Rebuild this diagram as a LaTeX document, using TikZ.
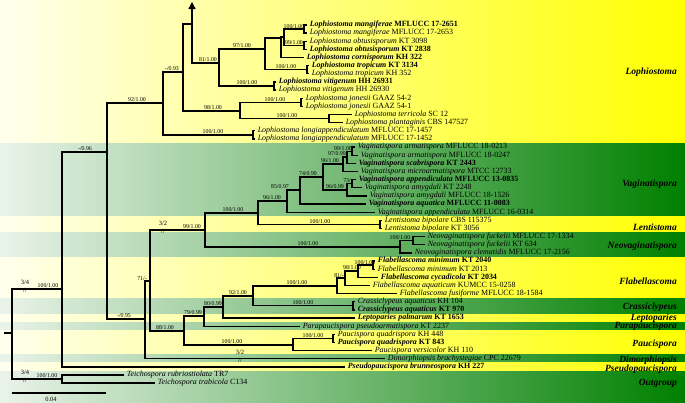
\documentclass[tikz,border=0pt]{standalone}
\usepackage{fontspec}
\setmainfont{Liberation Serif}
\usetikzlibrary{arrows.meta}

\definecolor{bandyellow}{RGB}{255,255,0}
\definecolor{paleyellow}{RGB}{255,255,238}
\definecolor{bandgreen}{RGB}{0,128,0}
\definecolor{palegreen}{RGB}{234,243,234}

\newcommand{\taxon}[2]{\textit{#1} #2}
\newcommand{\btaxon}[2]{\textbf{\textit{#1} #2}}

\begin{document}
\begin{tikzpicture}[
    x=0.03cm, y=-0.03cm,
    br/.style={line width=1.1pt},
    leaf/.style={anchor=west, inner xsep=2.2pt, inner ysep=0pt,
        text height=4.8pt, text depth=1.6pt, font=\fontsize{6.8}{7}\selectfont},
    supp/.style={anchor=south, inner sep=0.6pt, font=\fontsize{5}{5}\selectfont},
    brk/.style={inner sep=0pt, font=\fontsize{5.5}{5.5}\selectfont},
    clade/.style={anchor=east, inner sep=0pt, font=\fontsize{8.1}{9}\selectfont\bfseries\itshape},
    ybar/.style={left color=paleyellow, right color=bandyellow},
    gbar/.style={left color=palegreen, right color=bandgreen}
]
\useasboundingbox (0,0) rectangle (685,403);

% ---------- bands ----------
\shade[ybar] (0,0) rectangle (685,143.5);
\shade[gbar] (0,143.5) rectangle (685,216.5);
\shade[ybar] (0,216.5) rectangle (685,232.5);
\shade[gbar] (0,232.5) rectangle (685,257);
\shade[ybar] (0,257) rectangle (685,298);
\shade[gbar] (0,298) rectangle (685,314.5);
\shade[ybar] (0,314.5) rectangle (685,322.5);
\shade[gbar] (0,322.5) rectangle (685,330);
\shade[ybar] (0,330) rectangle (685,354.5);
\shade[gbar] (0,354.5) rectangle (685,362.5);
\shade[ybar] (0,362.5) rectangle (685,371.5);
\shade[gbar] (0,371.5) rectangle (685,403);

% ---------- clade names ----------
\node[clade] (cLo) at (677,72) {Lophiostoma};
\node[clade] (cVa) at (677,184) {Vaginatispora};
\node[clade] (cLe) at (677,227) {Lentistoma};
\node[clade] (cNe) at (677,246) {Neovaginatispora};
\node[clade] (cFl) at (677,281) {Flabellascoma};
\node[clade] (cCr) at (677,307) {Crassiclypeus};
\node[clade] (cLp) at (677,318) {Leptoparies};
\node[clade] (cPp) at (677,326) {Parapaucispora};
\node[clade] (cPa) at (677,344) {Paucispora};
\node[clade] (cDi) at (677,360) {Dimorphiopsis};
\node[clade] (cPs) at (677,369) {Pseudopaucispora};
\node[clade] (cOu) at (677,383) {Outgroup};

% ---------- taxa ----------
\node[leaf] (t1) at (307,25.0) {\btaxon{Lophiostoma mangiferae}{MFLUCC 17-2651}};
\node[leaf] (t2) at (307,33.1) {\taxon{Lophiostoma mangiferae}{MFLUCC 17-2653}};
\node[leaf] (t3) at (307,41.3) {\taxon{Lophiostoma obtusisporum}{KT 3098}};
\node[leaf] (t4) at (307,49.4) {\btaxon{Lophiostoma obtusisporum}{KT 2838}};
\node[leaf] (t5) at (304,57.6) {\btaxon{Lophiostoma cornisporum}{KH 322}};
\node[leaf] (t6) at (309,65.7) {\btaxon{Lophiostoma tropicum}{KT 3134}};
\node[leaf] (t7) at (309,73.8) {\taxon{Lophiostoma tropicum}{KH 352}};
\node[leaf] (t8) at (276,82.0) {\btaxon{Lophiostoma vitigenum}{HH 26931}};
\node[leaf] (t9) at (276,90.1) {\taxon{Lophiostoma vitigenum}{HH 26930}};
\node[leaf] (t10) at (303,98.3) {\taxon{Lophiostoma jonesii}{GAAZ 54-2}};
\node[leaf] (t11) at (303,106.4) {\taxon{Lophiostoma jonesii}{GAAZ 54-1}};
\node[leaf] (t12) at (352,114.5) {\taxon{Lophiostoma terricola}{SC 12}};
\node[leaf] (t13) at (343,122.7) {\taxon{Lophiostoma plantaginis}{CBS 147527}};
\node[leaf] (t14) at (255,130.8) {\taxon{Lophiostoma longiappendiculatum}{MFLUCC 17-1457}};
\node[leaf] (t15) at (255,139.0) {\taxon{Lophiostoma longiappendiculatum}{MFLUCC 17-1452}};
\node[leaf] (t16) at (355,147.1) {\taxon{Vaginatispora armatispora}{MFLUCC 18-0213}};
\node[leaf] (t17) at (358,155.2) {\taxon{Vaginatispora armatispora}{MFLUCC 18-0247}};
\node[leaf] (t18) at (356,163.4) {\btaxon{Vaginatispora scabrispora}{KT 2443}};
\node[leaf] (t19) at (358,171.5) {\taxon{Vaginatispora microarmatispora}{MTCC 12733}};
\node[leaf] (t20) at (356,179.6) {\btaxon{Vaginatispora appendiculata}{MFLUCC 13-0835}};
\node[leaf] (t21) at (362,187.8) {\taxon{Vaginatispora amygdali}{KT 2248}};
\node[leaf] (t22) at (367,195.9) {\taxon{Vaginatispora amygdali}{MFLUCC 18-1526}};
\node[leaf] (t23) at (366,204.1) {\btaxon{Vaginatispora aquatica}{MFLUCC 11-0083}};
\node[leaf] (t24) at (375,212.2) {\taxon{Vaginatispora appendiculata}{MFLUCC 16-0314}};
\node[leaf] (t25) at (382,220.3) {\taxon{Lentistoma bipolare}{CBS 115375}};
\node[leaf] (t26) at (382,228.5) {\taxon{Lentistoma bipolare}{KT 3056}};
\node[leaf] (t27) at (425,236.6) {\taxon{Neovaginatispora fuckelii}{MFLUCC 17-1334}};
\node[leaf] (t28) at (425,244.8) {\taxon{Neovaginatispora fuckelii}{KT 634}};
\node[leaf] (t29) at (412,252.9) {\taxon{Neovaginatispora clematidis}{MFLUCC 17-2156}};
\node[leaf] (t30) at (375,261.0) {\btaxon{Flabellascoma minimum}{KT 2040}};
\node[leaf] (t31) at (375,269.2) {\taxon{Flabellascoma minimum}{KT 2013}};
\node[leaf] (t32) at (378,277.3) {\btaxon{Flabellascoma cycadicola}{KT 2034}};
\node[leaf] (t33) at (370,285.5) {\taxon{Flabellascoma aquaticum}{KUMCC 15-0258}};
\node[leaf] (t34) at (397,293.6) {\taxon{Flabellascoma fusiforme}{MFLUCC 18-1584}};
\node[leaf] (t35) at (355,301.7) {\taxon{Crassiclypeus aquaticus}{KH 104}};
\node[leaf] (t36) at (355,309.9) {\btaxon{Crassiclypeus aquaticus}{KT 970}};
\node[leaf] (t37) at (355,318.0) {\btaxon{Leptoparies palmarum}{KT 1653}};
\node[leaf] (t38) at (300,326.2) {\taxon{Parapaucispora pseudoarmatispora}{KT 2237}};
\node[leaf] (t39) at (335,334.3) {\taxon{Paucispora quadrispora}{KH 448}};
\node[leaf] (t40) at (335,342.4) {\btaxon{Paucispora quadrispora}{KT 843}};
\node[leaf] (t41) at (372,350.6) {\taxon{Paucispora versicolor}{KH 110}};
\node[leaf] (t42) at (385,358.7) {\taxon{Dimorphiopsis brachystegiae}{CPC 22679}};
\node[leaf] (t43) at (345,366.9) {\btaxon{Pseudopaucispora brunneospora}{KH 227}};
\node[leaf] (t44) at (124,375.0) {\taxon{Teichospora rubriostiolata}{TR7}};
\node[leaf] (t45) at (155,383.1) {\taxon{Teichospora trabicola}{C134}};

% ---------- internal nodes ----------
\coordinate (root0) at (4,333);
\coordinate (root) at (12,333);
\coordinate (nA) at (62,289);
\coordinate (nOut) at (62,379);
\coordinate (nB) at (107,152);
\coordinate (nLo) at (163,103);
\coordinate (nG) at (183,72);
\coordinate (nH) at (192,24);
\coordinate (nTop) at (192,2);
\coordinate (nV) at (219,63);
\coordinate (nR) at (265,49);
\coordinate (nC2) at (281,38);
\coordinate (nMO) at (284,37);
\coordinate (nM) at (304,29.1);
\coordinate (nO) at (304,45.3);
\coordinate (nTr) at (307,69.8);
\coordinate (nVi) at (274,86.0);
\coordinate (nJ) at (240,111);
\coordinate (nJo) at (301,102.3);
\coordinate (nTP) at (329,118.6);
\coordinate (nLg) at (253,134.9);
\coordinate (nC) at (145,319);
\coordinate (nD) at (150,281);
\coordinate (nE) at (205,230);
\coordinate (nV9) at (258,213);
\coordinate (nV8) at (287,201);
\coordinate (nV7) at (300,190);
\coordinate (nV6) at (323,177);
\coordinate (nV3) at (343,164);
\coordinate (nV2) at (347,157);
\coordinate (nV1) at (352,151.2);
\coordinate (nV5) at (347,190);
\coordinate (nV4) at (352,183.7);
\coordinate (nLe) at (380,224.4);
\coordinate (nN0) at (400,247);
\coordinate (nN1) at (413,240.7);
\coordinate (nY) at (184,331);
\coordinate (nX) at (204,316);
\coordinate (nL) at (223,307);
\coordinate (nFC) at (253,296);
\coordinate (nF4) at (337,286);
\coordinate (nF3) at (345,278);
\coordinate (nF2) at (358,271);
\coordinate (nF1) at (373,265.1);
\coordinate (nCr) at (353,305.8);
\coordinate (nP0) at (293,345);
\coordinate (nP1) at (333,338.4);

% ---------- branches ----------
\draw[br] (root0) -- (root);
\foreach \p/\c in {root/nA, root/nOut, nOut/t44.west, nOut/t45.west,
    nA/nB, nA/t43.west, nB/nLo, nB/nC,
    nLo/nG, nLo/nLg, nLg/t14.west, nLg/t15.west,
    nG/nH, nG/nJ, nH/nV,
    nV/nR, nV/nVi, nVi/t8.west, nVi/t9.west,
    nR/nC2, nR/nTr, nTr/t6.west, nTr/t7.west,
    nC2/nMO, nC2/t5.west, nMO/nM, nMO/nO,
    nM/t1.west, nM/t2.west, nO/t3.west, nO/t4.west,
    nJ/nJo, nJ/nTP, nJo/t10.west, nJo/t11.west, nTP/t12.west, nTP/t13.west,
    nC/nD, nC/t42.west, nD/nE, nD/nY,
    nE/nV9, nE/nN0, nV9/nV8, nV9/nLe, nLe/t25.west, nLe/t26.west,
    nV8/nV7, nV8/t24.west, nV7/nV6, nV7/t23.west,
    nV6/nV3, nV6/nV5, nV3/nV2, nV3/t19.west, nV2/nV1, nV2/t18.west,
    nV1/t16.west, nV1/t17.west, nV5/nV4, nV5/t22.west, nV4/t20.west, nV4/t21.west,
    nN0/nN1, nN0/t29.west, nN1/t27.west, nN1/t28.west,
    nY/nX, nY/nP0, nX/nL, nX/t38.west, nL/nFC, nL/t37.west,
    nFC/nF4, nFC/nCr, nCr/t35.west, nCr/t36.west,
    nF4/nF3, nF4/t34.west, nF3/nF2, nF3/t33.west, nF2/nF1, nF2/t32.west,
    nF1/t30.west, nF1/t31.west,
    nP0/nP1, nP0/t41.west, nP1/t39.west, nP1/t40.west}
    \draw[br] (\p) |- (\c);
\draw[br, -{Triangle[length=6pt, width=6pt]}] (nH) -- (nTop);

% ---------- support values ----------
\node[supp] at (48,289) {100/1.00};
\node[supp] at (47,379) {100/1.00};
\node[supp] at (85,152) {-/0.96};
\node[supp] at (137,103) {92/1.00};
\node[supp] at (213,134.9) {100/1.00};
\node[supp] at (172,72) {-/0.93};
\node[supp] at (213,111) {98/1.00};
\node[supp] at (275,102.3) {100/1.00};
\node[supp] at (287,118.6) {100/1.00};
\node[supp] at (208,63) {81/1.00};
\node[supp] at (247,86) {100/1.00};
\node[supp] at (242,49) {97/1.00};
\node[supp] at (286,69.8) {100/1.00};
\node[supp] at (294,29.1) {100/1.00};
\node[supp] at (294,45.3) {99/1.00};
\node[supp] at (124,319) {-/0.95};
\node[supp] at (142,281) {71/-};
\node[supp] at (192,230) {99/1.00};
\node[supp] at (233,213) {100/1.00};
\node[supp] at (320,224.4) {100/1.00};
\node[supp] at (272,201) {96/1.00};
\node[supp] at (280,190) {85/0.97};
\node[supp] at (308,177) {74/0.99};
\node[supp] at (330,164) {96/1.00};
\node[supp] at (337,157) {97/0.99};
\node[supp] at (343,151.2) {99/1.00};
\node[supp] at (335,190) {96/0.99};
\node[supp] at (348,183.7) {73/-};
\node[supp] at (308,247) {100/1.00};
\node[supp] at (400,240.7) {100/1.00};
\node[supp] at (165,331) {88/1.00};
\node[supp] at (193,316) {79/0.99};
\node[supp] at (213,307) {80/0.99};
\node[supp] at (238,296) {92/1.00};
\node[supp] at (297,286) {100/1.00};
\node[supp] at (339,278) {81/-};
\node[supp] at (352,271) {98/1.00};
\node[supp] at (365,265.1) {100/1.00};
\node[supp] at (303,305.8) {100/1.00};
\node[supp] at (232,345) {100/1.00};
\node[supp] at (313,338.4) {100/1.00};

% ---------- shortened branches ----------
\node[brk] at (25,282.5) {3/4};
\node[brk] at (25,290.5) {//};
\node[brk] at (25,372.5) {3/4};
\node[brk] at (25,380.5) {//};
\node[brk] at (163,223.5) {3/2};
\node[brk] at (163,231.5) {//};
\node[brk] at (240,352.2) {3/2};
\node[brk] at (240,360.2) {//};

% ---------- scale ----------
\coordinate (sb1) at (12,393);
\coordinate (sb2) at (106,393);
\draw[br] (sb1) -- (sb2);
\node[brk] (sbl) at (51,399.5) {0.04};
\end{tikzpicture}
\end{document}
